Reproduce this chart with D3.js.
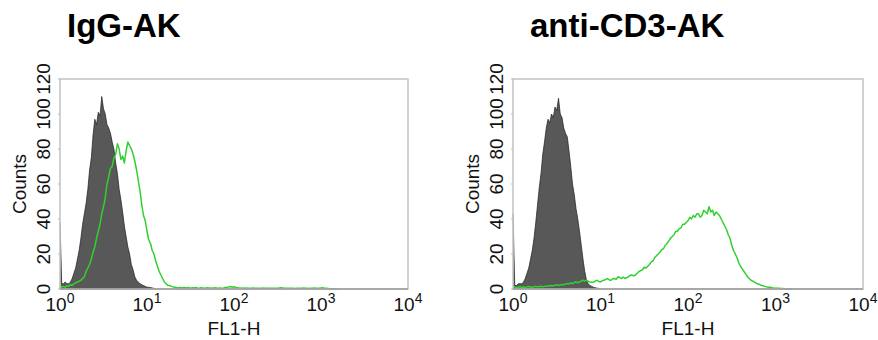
<!DOCTYPE html>
<html>
<head>
<meta charset="utf-8">
<script src="https://cdn.jsdelivr.net/npm/d3@7"></script>
<style>
  body { margin: 0; background: #fff; }
  svg { display: block; font-family: "Liberation Sans", Arial, Helvetica, sans-serif; }
</style>
</head>
<body>
<svg id="chart" width="878" height="340"></svg>
<script>
// Panel titles
const titles = ["IgG-AK", "anti-CD3-AK"];

// Histogram channels: channel i sits at FL1 = 10^(i * channelStep)
const channelStep = 0.02;

// Counts per channel, isotype control (filled grey) and stained sample (green line)
const isotypeIgG = [38, 3, 3, 4, 3, 3, 4, 6, 9, 12, 17, 22, 29, 37, 43, 49, 57, 68, 75, 88,
  97, 94, 101, 99, 110, 103, 100, 94, 92, 89, 84, 80, 72, 66, 57, 51, 44, 36, 30, 24,
  20, 14, 11, 7, 5, 4, 3, 2.5, 2, 1.5, 1, 1, 0.8, 0.6, 0.4, 0];

const stainedIgG = [2, 1, 1.5, 1, 2, 1.5, 2.5, 2, 3, 3.5, 4, 4.5, 5, 6, 7, 10, 12, 14, 17, 21,
  24, 29, 33, 37, 43, 47, 52, 60, 64, 69, 70, 75, 77, 83, 80, 74, 76, 72, 79, 84,
  82, 80, 77, 73, 68, 62, 56, 48, 42, 39, 33, 28, 26, 22, 20, 16, 13, 10, 8, 6,
  4, 3, 2, 2, 1.5, 1.2, 1,
  0.8, 0.7, 0.9, 0.6, 0.8, 0.7, 0.6, 0.8, 0.5, 0.7,
  0.6, 0.8, 0.6, 0.5, 0.7, 0.6, 0.5, 0.6, 0.7, 0.5,
  0.6, 0.5, 0.7, 0.6, 0.5, 0.6, 0.5, 0.6, 0.8, 0.9,
  1.2, 1.4, 1.0, 1.3, 0.9, 0.7, 0.6, 0.5, 0.6, 0.5,
  0.6, 0.5, 0.4, 0.5, 0.6, 0.5, 0.4, 0.5, 0.4, 0.5,
  0.6, 0.5, 0.4, 0.5, 0.4, 0.4, 0.5, 0.4, 0.5, 0.6,
  0.7, 0.6, 0.5, 0.4, 0.5, 0.4, 0.5, 0.4, 0.3, 0.4,
  0.5, 0.4, 0.5, 0.6, 0.5, 0.4, 0.3, 0.4, 0.5, 0.6,
  0.5, 0.4, 0.5, 0.6, 0.7, 0.5, 0.4, 0.3, 0.2, 0.2,
  0.1, 0.1, 0.1, 0];

const isotypeCD3 = [43, 2, 2, 3, 3, 3, 4, 6, 9, 12, 17, 22, 29, 38, 48, 58, 66, 77, 84, 92,
  97, 95, 100, 98, 104, 102, 109, 100, 98, 92, 89, 87, 79, 70, 60, 54, 46, 40, 33, 25,
  17, 10, 5, 3, 2, 1.5, 1, 0.7, 0.5, 0.3, 0];

const stainedCD3 = [1, 1.2, 0.8, 1, 1.3, 1, 1.1, 0.9, 1.2, 1.4,
  1.2, 1, 1.3, 1.5, 1.2, 1.4, 1.6, 1.3, 1.5, 1.8,
  1.6, 1.9, 2, 1.7, 2.2, 2.4, 2, 2.3, 2.6, 2.4,
  2.8, 3, 3, 3.5, 3, 3.8, 4, 3.6, 4, 4.5,
  5, 4.6, 5, 4.4, 4, 3.8, 4, 4.5, 5, 4.3,
  4, 4.8, 5, 5.5, 6, 5.2, 5, 5.8, 6, 5.5,
  7, 6.5, 6, 6.8, 6, 6.5, 7, 7.8, 8, 7.5,
  8, 9, 10, 10.5, 11, 12.5, 12, 13, 14, 15.5,
  16, 18, 19, 20, 21, 22.5, 23, 25, 26, 27.5,
  29, 30, 31, 33, 33, 34.5, 35, 37, 37, 38,
  39, 41, 40, 42, 41, 43, 43, 41, 42, 45,
  44, 43, 47, 44, 45, 42, 44, 43, 42, 40,
  38, 36, 34, 31, 29, 25, 22, 20, 18, 15,
  13, 11.5, 10, 8.5, 7, 6, 5, 4.5, 4, 3.2,
  3, 2.5, 2, 1.8, 1.5, 1.2, 1, 1, 0.7, 0.6,
  0.5, 0.4, 0.4, 0.3, 0.3, 0.2, 0.2, 0.1, 0.1, 0.1,
  0];

// Axis ticks
const yTicks = [0, 20, 40, 60, 80, 100, 120];
const xTickExponents = [0, 1, 2, 3, 4];
const xLabel = "FL1-H";
const yLabel = "Counts";

const panels = [
  { title: titles[0], isotype: isotypeIgG, stained: stainedIgG, left: 60, right: 408, titleX: 67 },
  { title: titles[1], isotype: isotypeCD3, stained: stainedCD3, left: 513, right: 863, titleX: 530 }
];

const plotTop = 79, plotBottom = 289;
const svg = d3.select("#chart");

const toPoints = counts => counts.map((c, i) => ({ fl: Math.pow(10, i * channelStep), count: c }));

panels.forEach(p => {
  const g = svg.append("g");
  const x = d3.scaleLog().domain([1, 1e4]).range([p.left, p.right]);
  const y = d3.scaleLinear().domain([0, 120]).range([plotBottom, plotTop]);

  // Title
  g.append("text")
    .attr("x", p.titleX).attr("y", 37)
    .attr("font-size", 33).attr("font-weight", "bold").attr("fill", "#000")
    .text(p.title);

  // Isotype control: filled grey histogram
  const iso = toPoints(p.isotype);
  g.append("path")
    .datum(iso)
    .attr("d", d3.area().x(d => x(d.fl)).y0(y(0)).y1(d => y(d.count)))
    .attr("fill", "#585858");
  g.append("path")
    .datum(iso)
    .attr("d", d3.line().x(d => x(d.fl)).y(d => y(d.count)))
    .attr("fill", "none").attr("stroke", "#1e1e1e").attr("stroke-width", 0.7);

  // Stained sample: green outline histogram
  g.append("path")
    .datum(toPoints(p.stained))
    .attr("d", d3.line().x(d => x(d.fl)).y(d => y(d.count)))
    .attr("fill", "none").attr("stroke", "#30d030").attr("stroke-width", 1.5)
    .attr("stroke-linejoin", "round");

  // Frame
  g.append("rect")
    .attr("x", p.left).attr("y", plotTop)
    .attr("width", p.right - p.left).attr("height", plotBottom - plotTop)
    .attr("fill", "none").attr("stroke", "#c6c6c6").attr("stroke-width", 1.6);
  g.append("line")
    .attr("x1", p.left).attr("x2", p.right).attr("y1", plotBottom).attr("y2", plotBottom)
    .attr("stroke", "#9a9a9a").attr("stroke-width", 1.4);

  // Y ticks and rotated labels
  yTicks.forEach(t => {
    g.append("line")
      .attr("x1", p.left - 2).attr("x2", p.left).attr("y1", y(t)).attr("y2", y(t))
      .attr("stroke", "#bbb").attr("stroke-width", 1);
    g.append("text")
      .attr("transform", `translate(${p.left - 10},${y(t)}) rotate(-90)`)
      .attr("text-anchor", "middle").attr("font-size", 19).attr("fill", "#111")
      .text(t);
  });
  g.append("text")
    .attr("transform", `translate(${p.left - 34},${(plotTop + plotBottom) / 2}) rotate(-90)`)
    .attr("text-anchor", "middle").attr("font-size", 19).attr("fill", "#111")
    .text(yLabel);

  // X tick labels as powers of ten
  xTickExponents.forEach(e => {
    const t = g.append("text")
      .attr("x", x(Math.pow(10, e))).attr("y", 311)
      .attr("text-anchor", "middle").attr("font-size", 19).attr("fill", "#111");
    t.append("tspan").text("10");
    t.append("tspan").attr("dy", -8).attr("font-size", 14).text(e);
  });
  g.append("text")
    .attr("x", (p.left + p.right) / 2).attr("y", 335)
    .attr("text-anchor", "middle").attr("font-size", 19).attr("fill", "#111")
    .text(xLabel);
});
</script>
</body>
</html>
